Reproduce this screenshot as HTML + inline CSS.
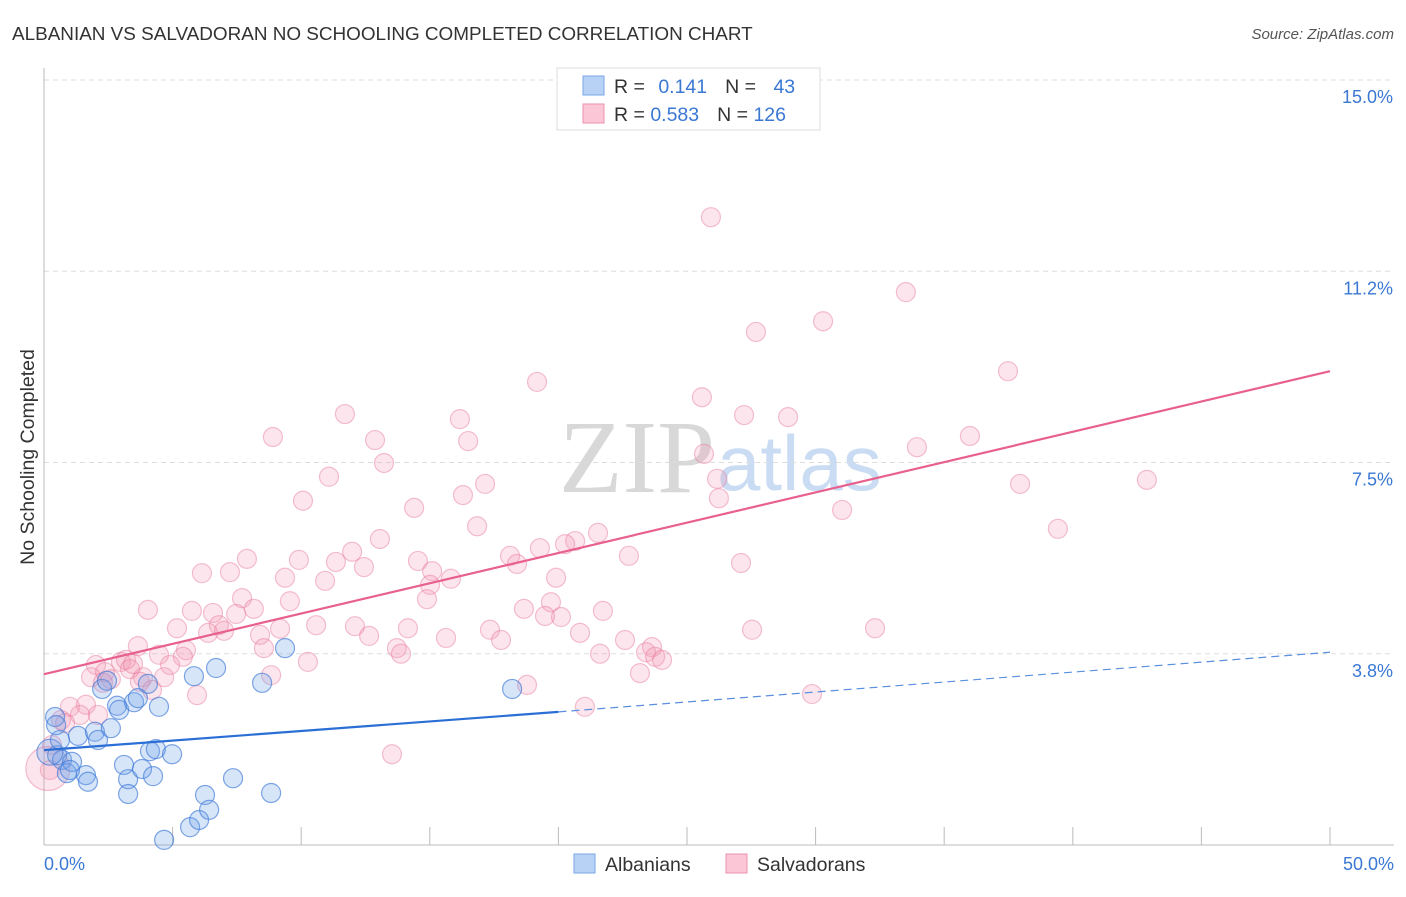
<!DOCTYPE html>
<html><head><meta charset="utf-8"><style>
body{margin:0;background:#fff;font-family:"Liberation Sans",sans-serif;}
</style></head><body>
<svg width="1406" height="892" xmlns="http://www.w3.org/2000/svg" id="chart">
<text x="12" y="40" font-size="18.9" fill="#333">ALBANIAN VS SALVADORAN NO SCHOOLING COMPLETED CORRELATION CHART</text>
<text x="1394" y="39" font-size="15" fill="#555" text-anchor="end" font-style="italic">Source: ZipAtlas.com</text>
<text x="715" y="492" font-size="104" fill="#d8d8d8" text-anchor="end" font-family="Liberation Serif">ZIP</text>
<text x="717" y="490" font-size="78" fill="#c9dcf3">atlas</text>
<text transform="translate(34,457) rotate(-90)" font-size="19.5" fill="#333" text-anchor="middle">No Schooling Completed</text>
<g id="grid"></g><g id="axes"></g><g id="pts"></g><g id="lines"></g>
<g>
<rect x="557" y="68" width="263" height="62" fill="#fff" stroke="#ddd"/>
<rect x="583" y="76" width="21" height="19" fill="#b8d2f5" stroke="#7aa6e6"/>
<rect x="583" y="104" width="21" height="19" fill="#fbc6d6" stroke="#eb92ae"/>
<text x="614" y="93" font-size="19.5" fill="#333">R = <tspan fill="#3a78d4" dx="8">0.141</tspan><tspan fill="#333" dx="18">N = </tspan><tspan fill="#3a78d4" dx="12">43</tspan></text>
<text x="614" y="121" font-size="19.5" fill="#333">R = <tspan fill="#3a78d4">0.583</tspan><tspan fill="#333" dx="18">N = </tspan><tspan fill="#3a78d4">126</tspan></text>
</g>
<g>
<rect x="574" y="854" width="21" height="19" fill="#b8d2f5" stroke="#7aa6e6"/>
<text x="605" y="871" font-size="19.5" fill="#333">Albanians</text>
<rect x="726" y="854" width="21" height="19" fill="#fbc6d6" stroke="#eb92ae"/>
<text x="757" y="871" font-size="19.5" fill="#333">Salvadorans</text>
</g>
</svg>
<script>
const yTicks=[3.75,7.5,11.25,15];
const yTickLabels=["3.8%","7.5%","11.2%","15.0%"];
const xTicks=[0,5,10,15,20,25,30,35,40,45,50];
const xEndLabels=["0.0%","50.0%"];
const blueX=[0.43,0.51,0.70,0.89,1.09,1.32,1.63,1.71,1.98,2.10,2.26,2.45,2.60,2.84,2.92,3.11,3.27,3.27,3.50,3.65,3.81,4.04,4.12,4.24,4.35,4.47,4.67,4.98,5.68,5.83,6.03,6.26,6.42,6.69,7.35,8.48,8.83,9.37,18.20,0.23,0.62,1.01,0.47];
const blueY=[2.51,1.76,1.67,1.41,1.63,2.14,1.37,1.24,2.22,2.06,3.06,3.22,2.29,2.73,2.65,1.57,1.29,1.00,2.80,2.88,1.49,3.16,1.84,1.35,1.88,2.71,0.10,1.78,0.35,3.31,0.49,0.98,0.69,3.47,1.31,3.18,1.02,3.86,3.06,1.82,2.06,1.47,2.35];
const pinkX=[25.93,33.51,27.68,30.29,19.17,37.48,25.58,11.70,16.17,27.22,28.93,8.90,12.87,16.49,36.00,33.94,13.22,11.08,17.15,25.66,26.17,42.88,37.95,10.07,14.39,16.29,26.24,31.03,16.84,39.42,13.06,21.54,20.65,20.26,19.28,11.98,7.89,9.91,11.35,18.12,18.39,14.54,22.74,12.44,6.14,7.23,27.10,9.37,10.93,15.09,19.91,15.82,15.01,9.56,7.70,14.89,4.04,5.75,6.57,8.16,7.47,18.66,19.71,21.73,20.10,19.48,10.58,12.09,6.80,5.17,6.38,9.18,8.40,7.00,14.15,17.34,15.63,12.64,20.84,22.59,27.53,32.31,17.77,3.65,8.55,5.52,4.47,13.72,13.88,21.62,23.64,23.41,23.76,24.03,5.40,10.26,2.02,2.37,2.99,3.19,3.34,4.90,1.83,2.60,3.85,4.67,8.83,4.20,5.95,18.78,23.17,29.86,1.01,1.63,1.40,2.10,0.66,0.82,21.03,13.53,0.31,0.23,2.29,3.73,3.46,0.15];
const pinkY=[12.31,10.84,10.06,10.27,9.08,9.29,8.78,8.45,8.35,8.43,8.39,8.00,7.94,7.92,8.02,7.80,7.49,7.22,7.08,7.67,7.18,7.16,7.08,6.75,6.61,6.86,6.80,6.57,6.25,6.20,6.00,6.12,5.96,5.90,5.82,5.75,5.61,5.59,5.55,5.67,5.51,5.57,5.67,5.45,5.33,5.35,5.53,5.24,5.18,5.37,5.24,5.22,5.10,4.78,4.84,4.82,4.61,4.59,4.55,4.63,4.53,4.63,4.76,4.59,4.47,4.49,4.31,4.29,4.31,4.25,4.16,4.24,4.12,4.20,4.25,4.22,4.06,4.10,4.16,4.02,4.22,4.25,4.02,3.90,3.86,3.82,3.73,3.86,3.75,3.75,3.88,3.78,3.69,3.63,3.69,3.59,3.53,3.39,3.59,3.63,3.45,3.53,3.29,3.25,3.29,3.29,3.33,3.04,2.94,3.14,3.37,2.96,2.71,2.75,2.55,2.55,2.45,2.39,2.71,1.78,1.96,1.47,3.18,3.20,3.55,1.50];
const blueLineX=[0,20,50];
const blueLineY=[1.86,2.61,3.78];
const pinkLineX=[0,50];
const pinkLineY=[3.35,9.29];

const NS="http://www.w3.org/2000/svg";
const sx=v=>44+v*25.72;
const sy=v=>845-v*51;
function mk(tag,attrs,parent){const e=document.createElementNS(NS,tag);for(const k in attrs)e.setAttribute(k,attrs[k]);parent.appendChild(e);return e;}
const grid=document.getElementById('grid'),axes=document.getElementById('axes'),pts=document.getElementById('pts'),lines=document.getElementById('lines');
yTicks.forEach((t,i)=>{
  const l=mk('line',{x1:44,x2:1394,y1:sy(t),y2:sy(t),stroke:'#ddd','stroke-dasharray':'5,4'},grid);
  
  
  const tx=mk('text',{x:1393,y:sy(t)+23,'font-size':18,fill:'#3a78d4','text-anchor':'end'},axes);
  tx.textContent=yTickLabels[i];
  
  
});
const ax=mk('line',{x1:44,x2:44,y1:68,y2:845,stroke:'#bbb'},axes);


const bx=mk('line',{x1:44,x2:1394,y1:845,y2:845,stroke:'#bbb'},axes);


xTicks.forEach(t=>{
  const l=mk('line',{x1:sx(t),x2:sx(t),y1:827,y2:845,stroke:'#bbb'},axes);
  
  
});
[[0,'start',44],[50,'end',1394]].forEach((d,i)=>{
  const tx=mk('text',{x:d[2],y:870,'font-size':18,fill:'#3a78d4','text-anchor':d[1]},axes);
  tx.textContent=xEndLabels[i];
  
  
});
pinkX.forEach((x,i)=>{
  const big=i===pinkX.length-1;
  const c=mk('circle',{cx:sx(x),cy:sy(pinkY[i]),r:big?22:9.5,fill:'rgba(244,150,180,0.25)',stroke:'rgba(230,120,155,0.45)','stroke-width':1.2},pts);
  
  
});
blueX.forEach((x,i)=>{
  const c=mk('circle',{cx:sx(x),cy:sy(blueY[i]),r:i===39?13:9.5,fill:'rgba(110,160,235,0.28)',stroke:'rgba(60,120,215,0.65)','stroke-width':1.2},pts);
  
  
});
const bl=mk('line',{x1:sx(blueLineX[0]),y1:sy(blueLineY[0]),x2:sx(blueLineX[1]),y2:sy(blueLineY[1]),stroke:'#2b6fd6','stroke-width':2.2},lines);


const bd=mk('line',{x1:sx(blueLineX[1]),y1:sy(blueLineY[1]),x2:sx(blueLineX[2]),y2:sy(blueLineY[2]),stroke:'#5b8fe0','stroke-width':1.2,'stroke-dasharray':'8,5'},lines);


const pl=mk('line',{x1:sx(pinkLineX[0]),y1:sy(pinkLineY[0]),x2:sx(pinkLineX[1]),y2:sy(pinkLineY[1]),stroke:'#e8608e','stroke-width':2.2},lines);


</script>
</body></html>
